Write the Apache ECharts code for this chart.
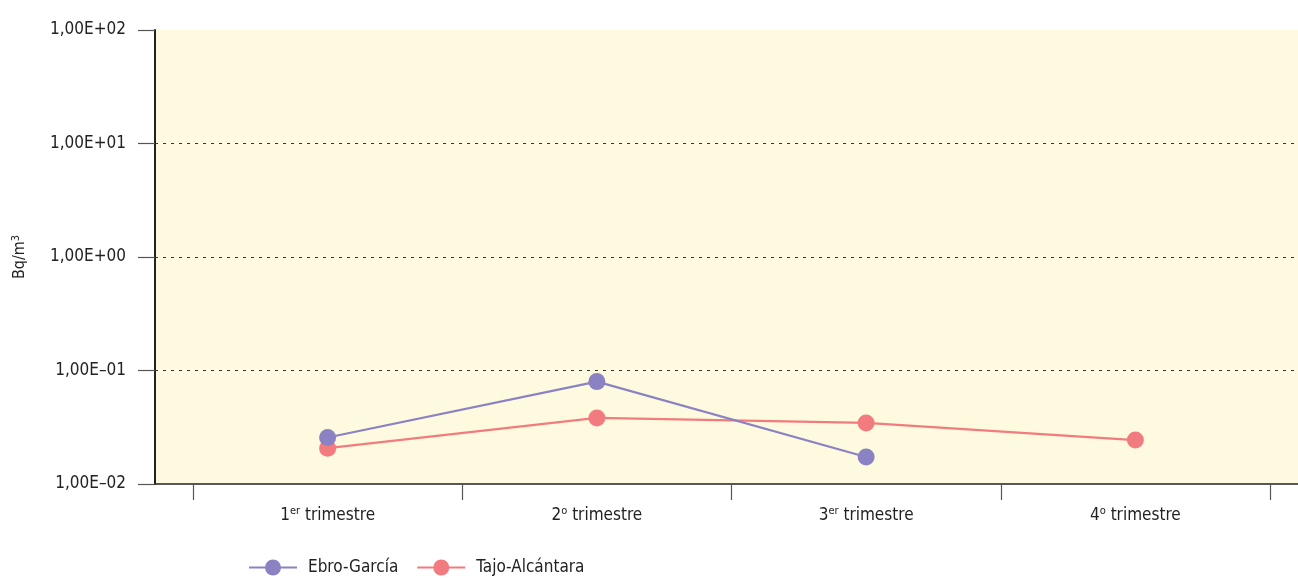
<!DOCTYPE html>
<html><head><meta charset="utf-8">
<script src="https://cdn.jsdelivr.net/npm/echarts@6/dist/echarts.min.js"></script>
<style>html,body{margin:0;padding:0;background:#fff}#c{width:1298px;height:579px}</style>
</head><body><div id="c"></div>
<script>
const categories = ['1{sup|er} trimestre', '2{sup|o} trimestre', '3{sup|er} trimestre', '4{sup|o} trimestre'];
const seriesNames = ['Ebro-García', 'Tajo-Alcántara'];
const ebroGarcia = [0.0257, 0.0798, 0.0173, null];
const tajoAlcantara = [0.0207, 0.0382, 0.0345, 0.0244];
const yTickValues = [0.01, 0.1, 1, 10, 100];
const yTickLabels = ['1,00E–02', '1,00E–01', '1,00E+00', '1,00E+01', '1,00E+02'];

const FONT = "'DejaVu Sans Condensed', 'Liberation Sans Narrow', 'Roboto', sans-serif";
const chart = echarts.init(document.getElementById('c'), null, {renderer: 'canvas'});
const TOP = 30, BOTTOM = 95;
const richSup = {sup: {fontSize: 11, verticalAlign: 'top', padding: [0,0,8,0], fontFamily: FONT, color: '#222'}};

chart.setOption({
  animation: false,
  textStyle: {fontFamily: FONT},
  grid: [
    {left: 155, right: 0, top: TOP, bottom: BOTTOM, show: true, backgroundColor: '#FEFADF', borderWidth: 0},
    {left: 193, right: 28, top: TOP, bottom: BOTTOM}
  ],
  xAxis: [
    {type: 'value', gridIndex: 0, min: 0, max: 1,
     axisLine: {show: true, onZero: false, lineStyle: {color: '#222', width: 1.5}},
     axisTick: {show: false}, axisLabel: {show: false}, splitLine: {show: false}},
    {type: 'category', gridIndex: 1, data: categories, boundaryGap: true,
     axisLine: {show: false},
     axisTick: {show: true, length: 16, lineStyle: {color: '#555', width: 1.2}},
     axisLabel: {show: true, margin: 22, fontSize: 17, color: '#222', fontFamily: FONT,
       formatter: v => v, rich: richSup},
     splitLine: {show: false}}
  ],
  yAxis: [
    {type: 'log', gridIndex: 0, logBase: 10, min: 0.01, max: 100,
     name: 'Bq/m{sup|3}', nameLocation: 'middle', nameGap: 126, nameRotate: 90,
     nameTextStyle: {fontSize: 16, color: '#222', fontFamily: FONT,
       rich: {sup: {fontSize: 11, verticalAlign: 'top', padding: [0,0,7,0], fontFamily: FONT, color: '#222'}}},
     axisLine: {show: true, lineStyle: {color: '#222', width: 2}},
     axisTick: {show: true, length: 17, lineStyle: {color: '#555', width: 1.2}},
     axisLabel: {show: true, margin: 29, fontSize: 17, color: '#222', fontFamily: FONT,
       formatter: v => { const i = yTickValues.findIndex(t => Math.abs(Math.log10(t) - Math.log10(v)) < 1e-6); return i >= 0 ? yTickLabels[i] : ''; }},
     splitLine: {show: true, showMinLine: false, showMaxLine: false, lineStyle: {color: '#333', type: [3, 5], width: 1}},
     minorTick: {show: false}},
    {type: 'log', gridIndex: 1, logBase: 10, min: 0.01, max: 100, show: false}
  ],
  legend: {
    left: 243, top: 554, itemWidth: 48, itemHeight: 20, itemGap: 18,
    textStyle: {fontSize: 17, color: '#222', fontFamily: FONT, padding: [0,0,0,6]},
    data: seriesNames
  },
  series: [
    {name: seriesNames[0], type: 'line', xAxisIndex: 1, yAxisIndex: 1, data: ebroGarcia,
     symbol: 'circle', symbolSize: 17, connectNulls: false,
     itemStyle: {color: '#8A82C2'}, lineStyle: {color: '#8A82C2', width: 2.2}, z: 3},
    {name: seriesNames[1], type: 'line', xAxisIndex: 1, yAxisIndex: 1, data: tajoAlcantara,
     symbol: 'circle', symbolSize: 17,
     itemStyle: {color: '#F27B7F'}, lineStyle: {color: '#F27B7F', width: 2.2}, z: 2}
  ]
});
</script></body></html>
